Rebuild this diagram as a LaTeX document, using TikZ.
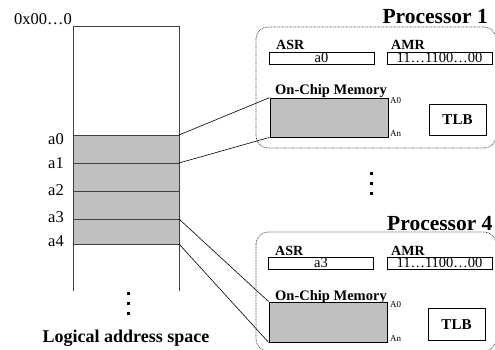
\documentclass[tikz,border=0pt]{standalone}
\usepackage{fontspec}
\setmainfont{Liberation Serif}
\definecolor{memgray}{HTML}{C0C0C0}
\begin{document}
\begin{tikzpicture}[x=1pt,y=-1pt,
  txt/.style={inner sep=0pt,font=\fontsize{16.5}{16.5}\selectfont},
  bold/.style={inner sep=0pt,font=\fontsize{#1}{#1}\selectfont\bfseries},
  small/.style={inner sep=0pt,font=\fontsize{9}{9}\selectfont},
  regbox/.style={draw=black,line width=0.8pt,inner sep=0pt,minimum width=105pt,minimum height=12pt,
    text height=9pt,text depth=0pt,font=\fontsize{14.5}{14.5}\selectfont},
  membox/.style={draw=black,line width=0.8pt,fill=memgray,inner sep=0pt,minimum width=118pt,minimum height=39pt},
  tlbbox/.style={draw=black,line width=0.8pt,inner sep=0pt,minimum width=57pt,minimum height=31pt,
    font=\fontsize{15}{15}\selectfont\bfseries},
  procbox/.style={draw=black!75,line width=0.7pt,dash pattern=on 0.8pt off 0.8pt,rounded corners=12pt},
  col/.style={draw=black!75,line width=0.8pt},
  conn/.style={draw=black,line width=0.6pt},
  dot/.style={fill=black}
]
\useasboundingbox (0,0) rectangle (495,350);

% ---------- logical address space ----------
\fill[memgray] (73,135) rectangle (179,244);
\draw[col] (73,291) -- (73,26) -- (179,26) -- (179,291);
\foreach \n/\y in {0/135,1/163,2/191,3/219,4/244}{
  \coordinate (l\n) at (73,\y);
  \coordinate (r\n) at (179,\y);
  \draw[col] (l\n) -- (r\n);
}
\node[txt,anchor=base east] (top) at (72,25) {0x00\ldots0};
\node[txt,anchor=base east] (la0) at (64,145) {a0};
\node[txt,anchor=base east] (la1) at (64,168) {a1};
\node[txt,anchor=base east] (la2) at (64,195) {a2};
\node[txt,anchor=base east] (la3) at (64,222) {a3};
\node[txt,anchor=base east] (la4) at (64,246) {a4};
\foreach \y in {293,303,313}{\fill[dot] (126.5,\y-1.5) rectangle ++(3,3);}
\node[bold=18,anchor=base] (las) at (126,342) {Logical address space};

% ---------- processor 1 ----------
\draw[procbox] (256,27) rectangle (496,148);
\node[bold=21.5,anchor=base east] (p1) at (488,24) {Processor 1};
\node[bold=14,anchor=base west] (asrl1) at (276,50) {ASR};
\node[bold=14,anchor=base west] (amrl1) at (391,50) {AMR};
\node[regbox] (asr1) at (321.5,58) {a0};
\node[regbox] (amr1) at (439.5,58) {11\ldots1100\ldots00};
\node[bold=14.5,anchor=base west] (ocl1) at (275,95) {On-Chip Memory};
\node[membox] (m1) at (329,117.5) {};
\node[small,anchor=west] (a01) at (390,101) {A0};
\node[small,anchor=west] (an1) at (390,134) {An};
\node[tlbbox] (t1) at (457.5,119.5) {TLB};

% ---------- middle dots ----------
\foreach \y in {173,183,193}{\fill[dot] (369.5,\y-1.5) rectangle ++(3,3);}

% ---------- processor 4 ----------
\draw[procbox] (256,232) rectangle (496,351);
\node[bold=21.5,anchor=base west] (p4) at (387,230) {Processor 4};
\node[bold=14,anchor=base west] (asrl4) at (275,255) {ASR};
\node[bold=14,anchor=base west] (amrl4) at (391,255) {AMR};
\node[regbox] (asr4) at (321,263) {a3};
\node[regbox] (amr4) at (439.5,263) {11\ldots1100\ldots00};
\node[bold=14.5,anchor=base west] (ocl4) at (275,300) {On-Chip Memory};
\node[membox,minimum height=40pt] (m4) at (328,322) {};
\node[small,anchor=west] (a04) at (390,305) {A0};
\node[small,anchor=west] (an4) at (390,339) {An};
\node[tlbbox,minimum height=32pt] (t4) at (456.5,324.5) {TLB};

% ---------- connectors ----------
\draw[conn] (r0) -- (m1.north west);
\draw[conn] (r1) -- (m1.south west);
\draw[conn] (r3) -- (m4.north west);
\draw[conn] (r4) -- (m4.south west);
\end{tikzpicture}
\end{document}
